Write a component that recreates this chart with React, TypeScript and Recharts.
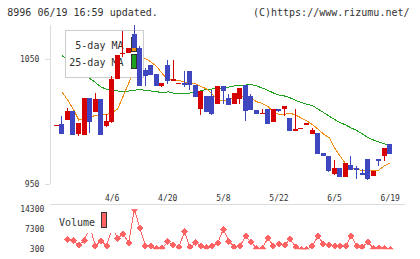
import React from 'react';
import { ComposedChart, Line, Bar, XAxis, YAxis } from 'recharts';

const dates = ['3/23','3/24','3/25','3/26','3/27','3/30','3/31','4/1','4/2','4/3','4/6','4/7','4/8','4/9','4/10','4/13','4/14','4/15','4/16','4/17','4/20','4/21','4/22','4/23','4/24','4/27','4/28','4/30','5/1','5/7','5/8','5/11','5/12','5/13','5/14','5/15','5/18','5/19','5/20','5/21','5/22','5/25','5/26','5/27','5/28','5/29','6/1','6/2','6/3','6/4','6/5','6/8','6/9','6/10','6/11','6/12','6/15','6/16','6/17','6/18','6/19'];
const labelDates = ['4/6', '4/20', '5/8', '5/22', '6/5', '6/19'];

const opens = [997,998,1001.2,1008.4,990,989.4,1018.8,1007.8,1018,996.6,999.8,1034,1054.6,1054.6,1070,1059,1041.2,1045.2,1038,1028.4,1045.2,1032.6,1030.4,1030.8,1040.4,1029.2,1010,1020.4,1020.4,1014,1028.4,1018.8,1014,1018,1029.2,1020.4,1009.2,1006.4,1010,999.6,1010,1010,1002.8,992.4,994.4,997.2,990,990.8,974.8,972.4,958,962.8,955.6,965.2,962.8,958.8,970,956.4,970,972.4,982];
const highs = [997.6,1004.4,1010.6,1008.4,998.8,1018.8,1018.8,1022.8,1018,1005.8,1036.4,1053.2,1072.4,1058.6,1077.2,1060.4,1043,1045.2,1038,1030.8,1049.2,1049.2,1030.8,1040.4,1040.4,1029.2,1024.4,1020.4,1025.2,1028.4,1028.4,1022,1022.8,1026.8,1029.2,1022,1009.2,1010,1010,1010,1010,1012.4,1002.8,1010,994.8,998.8,994.8,990.8,974.8,972.4,969.2,962.8,966.8,972.4,964.4,962,970,960.4,970,978.8,982];
const lows = [997,990,1001.2,989.4,988.4,989.4,990.6,1007.8,989.4,996,998.6,1034,1052,1054.6,1059.2,1028.4,1028.4,1037.2,1028.4,1027.6,1030.4,1032.6,1030.4,1027.6,1025.2,1019.6,1005.2,1007.6,1005.2,1014,1014,1013.2,1014,1014,1000.4,1009.2,1006,1006.4,998,999.6,1007.6,1004.4,992.4,992.4,994.4,997.2,990,974,972.4,959.6,957.2,955.6,955.6,961.2,954,957.2,953.2,956.4,964.4,968.4,974];
const closes = [997.4,990,1008.4,989.4,998.8,1018.8,999.8,1018,989.4,1000.4,1034,1053.2,1055,1058.6,1059.2,1028.4,1036.6,1037.2,1028.4,1030.8,1032.4,1033.8,1030.8,1029.2,1029.2,1019.6,1024.4,1007.6,1006,1028.4,1024.4,1013.2,1022.8,1026.8,1008.4,1009.2,1006,1006.8,998,1010,1008.4,1012.4,992.4,994,994.8,998.8,993.2,974,972.4,960.4,962.8,955.6,966.8,961.2,961.2,957.2,954,960.4,968.4,978.8,974];

const ma5 = [null,1023.6,1017.2,1010.0,1001.2,1001.6,1003.6,1004.8,1005.2,1005.6,1007.2,1010.0,1020.4,1030.8,1041.2,1050.0,1050.4,1047.6,1044.0,1038.4,1033.6,1033.2,1032.8,1031.6,1030.6,1030.2,1028.0,1026.0,1022.0,1017.2,1016.8,1017.4,1018.8,1019.8,1020.4,1018.4,1015.8,1014.4,1012.0,1007.6,1005.8,1005.8,1006.6,1005.2,1002.8,1000.4,997.6,994.0,990.0,987.2,978.8,972.4,966.0,962.4,961.6,960.8,960.6,960.6,961.2,964.8,966.6];
const ma25 = [null,1052.8,1049.0,1045.4,1041.8,1038.2,1034.4,1031.2,1027.6,1025.8,1024.6,1024.4,1024.4,1024.4,1025.0,1025.6,1024.8,1024.4,1024.0,1022.8,1023.8,1022.8,1022.8,1022.8,1022.8,1023.2,1024.6,1025.6,1026.0,1026.2,1026.6,1027.6,1028.4,1029.0,1029.2,1029.6,1028.4,1026.8,1025.0,1022.8,1021.2,1020.4,1019.0,1016.8,1015.2,1013.8,1012.8,1010.0,1007.2,1004.4,1001.6,999.2,997.2,994.8,992.8,990.0,987.2,985.2,983.6,982.0,982.0];
const volume = [null,null,3800,3310,1800,3310,8250,1450,3310,1450,7750,4150,5650,2600,14300,7650,1450,1350,650,650,2950,1800,1000,6450,1000,2600,1450,1000,1450,2600,7300,3050,1100,1450,4950,2750,650,650,4250,1450,2150,1800,3900,1100,300,300,1450,4950,2150,1800,1450,1450,1450,4950,1450,1100,2850,650,650,650,300];

const priceTicks = [950, 1050];
const volTicks = [300, 7300, 14300];

const XMIN = -1.17;
const XMAX = 62.66;
const PRICE_MIN = 950;
const PRICE_MAX = 1077.2;

const RED = '#d60000';
const BLUE = '#3f47c0';
const ORANGE = '#f08c10';
const GREEN = '#1fa01f';
const VOL = '#ff6262';
const GRID = '#dcdcdc';
const TXT = '#333';
const MONO = '"DejaVu Sans Mono", monospace';

const rows = dates.map((d, i) => ({
  i,
  date: d,
  o: opens[i],
  h: highs[i],
  l: lows[i],
  c: closes[i],
  range: [lows[i], highs[i]],
  ma5: ma5[i],
  ma25: ma25[i],
  vol: volume[i],
}));

const W = 420;
const H = 259;
const PLOT_LEFT = 50;
const PLOT_RIGHT = 405;
const PLOT_TOP = 25;
const PLOT_BOTTOM = 184;
const TICK_AXIS_H = 5;
const LABEL_AXIS_H = 20;
const plotW = PLOT_RIGHT - PLOT_LEFT;
const pxPerIdx = plotW / (XMAX - XMIN);
const padL = (-0.5 - XMIN) * pxPerIdx;
const padR = (XMAX - (dates.length - 0.5)) * pxPerIdx;
const xTicks = Array.from({ length: 12 }, (_, k) => XMIN + (k * (XMAX - XMIN)) / 11);
const labelTicks = labelDates.map((d) => dates.indexOf(d));

const Candle = (props: any) => {
  const { x, y, width, height, payload } = props;
  if (x == null || y == null || !payload) return null;
  const { o, h, l, c } = payload;
  const up = c >= o;
  const color = up ? RED : BLUE;
  const span = h - l;
  const toY = (v: number) => (span > 0 ? y + ((h - v) / span) * height : y);
  const top = toY(Math.max(o, c));
  const bot = toY(Math.min(o, c));
  const cx = x + width / 2;
  return (
    <g>
      <line x1={cx} x2={cx} y1={y} y2={y + height} stroke={color} strokeWidth={1} />
      <rect x={x} y={top} width={width} height={Math.max(bot - top, 1)} fill={color} />
    </g>
  );
};

const Diamond = (p: any) => {
  const { cx, cy, value, index } = p;
  if (cx == null || cy == null || value == null || isNaN(cy)) return <g key={`d${index}`} />;
  const r = 3.5;
  return (
    <polygon
      key={`d${index}`}
      points={`${cx - r},${cy} ${cx},${cy - r} ${cx + r},${cy} ${cx},${cy + r}`}
      fill={VOL}
    />
  );
};

const DateTick = (p: any) => (
  <text x={p.x} y={PLOT_BOTTOM + 16.5} textAnchor="middle" fontSize={8} fontFamily={MONO} fill={TXT}>
    {dates[p.payload.value]}
  </text>
);

const layer: React.CSSProperties = { position: 'absolute', left: 0, top: 0, width: W, height: H };

export default function App() {
  return (
    <div style={{ position: 'absolute', left: 0, top: 0, width: W, height: H, background: '#fff', overflow: 'hidden', shapeRendering: 'crispEdges' as any }}>
      {/* main price chart: axes + moving averages */}
      <div style={layer}>
        <ComposedChart
          width={W}
          height={H}
          data={rows}
          margin={{ top: PLOT_TOP, right: W - PLOT_RIGHT, bottom: H - PLOT_BOTTOM - TICK_AXIS_H - LABEL_AXIS_H, left: 0 }}
        >
          <XAxis
            xAxisId="t"
            dataKey="i"
            type="number"
            domain={[XMIN, XMAX]}
            allowDataOverflow
            ticks={xTicks}
            interval={0}
            tick={false}
            tickSize={5}
            height={TICK_AXIS_H}
            axisLine={{ stroke: GRID }}
            tickLine={{ stroke: GRID }}
          />
          <XAxis
            xAxisId="l"
            dataKey="i"
            type="number"
            domain={[XMIN, XMAX]}
            allowDataOverflow
            ticks={labelTicks}
            interval={0}
            tick={(p: any) => <DateTick {...p} />}
            tickSize={0}
            tickMargin={0}
            height={LABEL_AXIS_H}
            axisLine={false}
            tickLine={false}
          />
          <YAxis
            type="number"
            domain={[PRICE_MIN, PRICE_MAX]}
            allowDataOverflow
            ticks={priceTicks}
            interval={0}
            width={PLOT_LEFT}
            tickSize={5}
            tickMargin={5.7}
            axisLine={{ stroke: GRID }}
            tickLine={{ stroke: GRID }}
            tick={{ fontSize: 8, fontFamily: MONO, fill: TXT }}
          />
          <Line xAxisId="t" dataKey="ma25" stroke={GREEN} strokeWidth={1} dot={false} activeDot={false} isAnimationActive={false} connectNulls={false} />
          <Line xAxisId="l" dataKey="ma5" stroke={ORANGE} strokeWidth={1} dot={false} activeDot={false} isAnimationActive={false} connectNulls={false} />
        </ComposedChart>
      </div>

      {/* volume chart */}
      <div style={layer}>
        <ComposedChart width={W} height={H} data={rows} margin={{ top: 209.3, right: W - PLOT_RIGHT, bottom: 9.7, left: 0 }}>
          <XAxis dataKey="i" type="number" domain={[XMIN, XMAX]} allowDataOverflow hide />
          <YAxis
            type="number"
            domain={[volTicks[0], volTicks[volTicks.length - 1]]}
            allowDataOverflow
            ticks={volTicks}
            interval={0}
            width={PLOT_LEFT}
            tickSize={0}
            tickMargin={5.7}
            axisLine={false}
            tickLine={false}
            tick={{ fontSize: 8, fontFamily: MONO, fill: TXT }}
          />
          <Line dataKey="vol" stroke={VOL} strokeWidth={1} dot={<Diamond />} activeDot={false} isAnimationActive={false} connectNulls={false} />
        </ComposedChart>
      </div>

      {/* legends and header */}
      <svg style={layer} width={W} height={H}>
        <text x={7.3} y={16} fontSize={10} fontFamily={MONO} fill={TXT}>8996 06/19 16:59 updated.</text>
        <text x={409.5} y={16} fontSize={10} fontFamily={MONO} fill={TXT} textAnchor="end">(C)https://www.rizumu.net/</text>

        <rect x={65.5} y={30.5} width={78} height={47} fill="#fff" stroke="#cccccc" strokeWidth={1} />
        <text x={123.5} y={49} fontSize={10} fontFamily={MONO} fill={TXT} textAnchor="end">5-day MA</text>
        <text x={123.5} y={66} fontSize={10} fontFamily={MONO} fill={TXT} textAnchor="end">25-day MA</text>
        <rect x={131.5} y={37.5} width={5} height={14} fill={ORANGE} stroke="#333" strokeWidth={1} />
        <rect x={131.5} y={54.5} width={5} height={14} fill={GREEN} stroke="#333" strokeWidth={1} />

        <rect x={55} y={205} width={60} height={28} fill="#fff" />
        <text x={59} y={226.3} fontSize={10} fontFamily={MONO} fill={TXT}>Volume</text>
        <rect x={101.5} y={212.5} width={5} height={15} fill={VOL} stroke="#333" strokeWidth={1} />
      </svg>

      {/* candlesticks on top */}
      <div style={layer}>
        <ComposedChart width={W} height={H} data={rows} margin={{ top: PLOT_TOP, right: W - PLOT_RIGHT, bottom: H - PLOT_BOTTOM, left: PLOT_LEFT }}>
          <XAxis dataKey="date" type="category" hide padding={{ left: padL, right: padR }} />
          <YAxis type="number" domain={[PRICE_MIN, PRICE_MAX]} allowDataOverflow hide />
          <Bar dataKey="range" barSize={5} shape={(p: any) => <Candle {...p} />} isAnimationActive={false} />
        </ComposedChart>
      </div>
    </div>
  );
}
